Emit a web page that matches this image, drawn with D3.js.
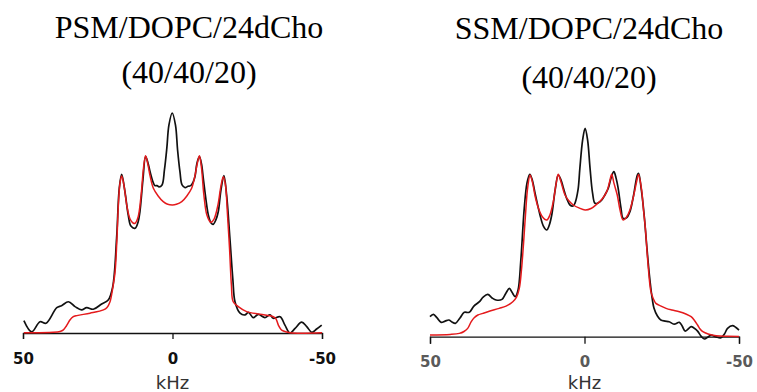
<!DOCTYPE html>
<html lang="en">
<head>
    <meta charset="UTF-8">
    <title>2H NMR spectra</title>
    <script type="text/javascript" src="https://cdn.jsdelivr.net/npm/d3@7"></script>
    <style>
        body { margin: 0; background: #fff; }
        .title { font-family: "Liberation Serif", "Times New Roman", serif; font-size: 32px; fill: #000; }
        .exp { fill: none; stroke: #111; stroke-width: 1.7; }
        .sim { fill: none; stroke: #e41a1c; stroke-width: 1.5; }
        .unit { font-family: "DejaVu Sans", sans-serif; font-size: 18px; fill: #333; }
    </style>
</head>
<body>
<svg id="chart" width="757" height="392"></svg>
<script>
    // x ticks (kHz) and titles
    var tickValues = [50, 0, -50];
    var titlesPSM = ["PSM/DOPC/24dCho", "(40/40/20)"];
    var titlesSSM = ["SSM/DOPC/24dCho", "(40/40/20)"];

    // [kHz, relative intensity]
    var psmExperimental = [
        [49.7, 5.6], [47.1, 0.5], [44.3, 5.1], [42.3, 4.4], [38.7, 11.5], [37.1, 12.4], [34.8, 14.2],
        [32.6, 12.0], [30.4, 10.5], [28.7, 11.5], [26.5, 10.8], [23.7, 13.2], [21.5, 15.0], [20.0, 21.0],
        [18.7, 43.0], [17.8, 65.8], [17.0, 72.1], [15.9, 64.2], [14.8, 53.6], [13.9, 48.6], [12.5, 47.6],
        [11.5, 50.5], [10.9, 55.1], [9.9, 69.5], [9.0, 80.2], [8.2, 77.3], [7.5, 73.3], [6.5, 68.6],
        [5.9, 67.0], [5.2, 67.0], [4.5, 66.4], [3.5, 67.3], [2.7, 74.1], [1.9, 84.0], [1.2, 94.5],
        [0.1, 100], [-1.0, 94.5], [-1.7, 83.2], [-2.5, 73.2], [-3.2, 67.3], [-4.2, 66.1], [-5.2, 66.7],
        [-6.1, 67.0], [-6.9, 68.6], [-7.5, 71.0], [-8.2, 77.3], [-9.0, 80.2], [-9.7, 76.8], [-10.3, 70.3],
        [-11.2, 60.5], [-12.0, 53.6], [-12.9, 50.0], [-13.6, 49.4], [-14.5, 51.4], [-15.3, 55.1],
        [-16.2, 65.0], [-17.2, 71.5], [-18.1, 62.7], [-19.2, 43.0], [-20.2, 24.1], [-20.9, 14.2],
        [-22.6, 9.0], [-24.2, 8.2], [-25.4, 9.4], [-27.0, 7.0], [-28.7, 8.5], [-30.9, 7.0], [-32.6, 8.2],
        [-33.7, 6.7], [-36.0, 7.4], [-37.6, 3.6], [-39.3, 0.0], [-41.0, 2.1], [-43.2, 4.9], [-44.9, 2.9],
        [-46.6, 0.3], [-48.2, 1.8], [-49.9, 3.6]
    ];

    var psmSimulated = [
        [49.7, 0.1], [39.9, 0.3], [37.6, 0.7], [36.5, 1.4], [35.5, 3.2], [34.3, 5.9], [33.3, 7.3],
        [32.0, 7.9], [27.6, 9.0], [23.1, 10.5], [21.9, 11.6], [20.9, 14.2], [20.1, 19.5], [19.2, 27.9],
        [18.6, 42.3], [18.1, 58.2], [17.6, 67.7], [17.0, 71.4], [16.2, 66.8], [15.2, 57.3], [14.2, 51.8],
        [13.2, 50.0], [12.5, 49.9], [11.5, 52.7], [10.5, 62.7], [9.7, 75.0], [9.0, 80.6], [8.2, 76.4],
        [7.5, 71.4], [6.4, 65.8], [4.8, 62.3], [3.1, 59.7], [1.6, 58.5], [0, 58.2], [-1.3, 58.5],
        [-3.1, 59.7], [-4.8, 62.3], [-6.4, 65.8], [-7.5, 71.4], [-8.2, 76.4], [-9.0, 80.6], [-9.7, 75.0],
        [-10.5, 62.7], [-11.5, 53.6], [-12.8, 50.3], [-13.9, 51.8], [-15.2, 58.2], [-16.2, 66.8],
        [-17.0, 71.0], [-17.7, 67.3], [-18.4, 53.6], [-19.1, 37.7], [-19.7, 21.8], [-20.3, 14.2],
        [-22.0, 12.0], [-24.8, 9.7], [-29.3, 8.5], [-33.7, 7.4], [-34.6, 6.4], [-35.4, 3.6], [-36.3, 1.6],
        [-37.1, 0.9], [-39.3, 0.1], [-50, 0.1]
    ];

    var ssmExperimental = [
        [50.0, 9.6], [48.9, 10.7], [47.7, 9.0], [46.4, 6.9], [45.1, 7.5], [43.9, 8.0], [42.9, 7.1],
        [41.8, 6.4], [40.3, 9.0], [38.9, 11.7], [37.3, 11.7], [35.8, 14.7], [34.0, 16.8], [32.8, 19.0],
        [31.3, 20.3], [29.9, 18.6], [28.6, 17.6], [26.7, 17.9], [25.4, 21.0], [24.3, 23.2], [23.5, 21.4],
        [22.4, 19.2], [21.5, 22.4], [20.6, 36.8], [19.5, 61.6], [18.6, 73.8], [17.7, 77.9], [16.9, 75.2],
        [16.1, 69.6], [14.4, 58.4], [13.3, 53.1], [12.2, 51.2], [11.5, 53.1], [10.6, 58.4], [9.5, 70.4],
        [8.5, 77.6], [7.6, 75.2], [6.8, 71.2], [5.7, 66.1], [4.7, 63.2], [3.7, 62.7], [3.1, 64.0],
        [2.1, 70.4], [1.5, 80.8], [0.6, 94.4], [-0.2, 100], [-1.0, 94.4], [-1.8, 80.8], [-2.6, 69.0],
        [-3.4, 64.0], [-4.4, 64.2], [-5.6, 65.6], [-6.6, 68.0], [-7.7, 71.2], [-8.6, 76.2], [-9.5, 79.2],
        [-10.2, 76.2], [-10.9, 71.2], [-11.8, 61.8], [-12.5, 56.8], [-13.6, 57.0], [-14.7, 60.0],
        [-15.9, 68.0], [-17.1, 77.6], [-17.5, 78.4], [-18.4, 70.4], [-19.3, 58.4], [-20.2, 42.6],
        [-21.0, 29.6], [-21.8, 19.5], [-22.5, 13.6], [-23.6, 9.9], [-24.7, 8.0], [-26.1, 7.5],
        [-27.4, 7.2], [-29.0, 6.0], [-30.7, 6.9], [-31.6, 5.1], [-32.6, 2.7], [-34.5, 4.8], [-35.4, 4.2],
        [-36.6, 2.7], [-37.7, 0.3], [-38.8, -1.1], [-40.0, -0.1], [-40.9, 0.8], [-42.6, -0.1],
        [-44.2, -0.5], [-45.3, 1.3], [-46.3, 4.0], [-47.9, 5.3], [-49.0, 4.4], [-50, 3.2]
    ];

    var ssmSimulated = [
        [50.0, 0.8], [43.5, 1.1], [40.5, 1.6], [39.0, 2.5], [37.8, 4.0], [36.7, 7.1], [35.7, 9.1],
        [34.5, 10.4], [32.9, 11.2], [30.6, 12.3], [27.6, 13.6], [25.4, 14.7], [23.2, 16.8], [22.0, 19.0],
        [21.1, 23.2], [20.4, 32.0], [19.7, 45.4], [19.1, 58.4], [18.4, 71.4], [17.6, 77.6], [16.8, 73.8],
        [16.0, 67.5], [14.9, 61.6], [13.7, 57.7], [12.2, 56.0], [11.2, 58.4], [10.1, 64.8], [9.2, 73.3],
        [8.5, 77.9], [7.6, 74.2], [6.3, 68.0], [5.0, 65.1], [3.6, 63.2], [1.8, 61.8], [-0.2, 60.8],
        [-2.1, 61.5], [-3.9, 63.5], [-5.7, 66.1], [-7.2, 69.6], [-8.1, 74.2], [-8.8, 77.9], [-9.5, 73.8],
        [-10.6, 68.0], [-11.5, 60.8], [-12.5, 56.0], [-13.6, 57.4], [-14.7, 60.8], [-16.0, 68.3],
        [-17.1, 75.9], [-17.5, 77.8], [-18.4, 71.4], [-19.1, 60.8], [-19.7, 52.0], [-20.5, 35.8],
        [-21.5, 21.6], [-22.3, 18.1], [-23.1, 16.0], [-24.8, 14.7], [-26.4, 13.6], [-28.3, 12.8],
        [-30.7, 12.0], [-32.8, 10.9], [-34.5, 9.6], [-35.6, 7.8], [-36.6, 5.6], [-37.4, 3.7],
        [-38.3, 2.4], [-40.0, 1.3], [-42.6, 0.5], [-46.4, 0.2], [-50, 0.1]
    ];

    var svg = d3.select("svg#chart");

    var panels = [
        {titles: titlesPSM, exp: psmExperimental, sim: psmSimulated,
         x0: 23, x1: 322, base: 333, h: 220, tx: 189, ty: [38, 83],
         labelY: 31.3, labelColor: "#111", tickLen: 6},
        {titles: titlesSSM, exp: ssmExperimental, sim: ssmSimulated,
         x0: 430, x1: 739, base: 336.7, h: 208.4, tx: 589, ty: [39, 88],
         labelY: 30, labelColor: "#5a5a5a", tickLen: 7}
    ];

    panels.forEach(function (p) {
        var x = d3.scaleLinear().domain([50, -50]).range([p.x0, p.x1]);
        var y = d3.scaleLinear().domain([0, 100]).range([p.base, p.base - p.h]);

        var line = d3.line()
            .x(function (d) { return x(d[0]); })
            .y(function (d) { return y(d[1]); })
            .curve(d3.curveCatmullRom.alpha(0.5));

        // titles
        svg.selectAll(null)
            .data(p.titles)
            .enter()
            .append("text")
            .attr("class", "title")
            .attr("x", p.tx)
            .attr("y", function (d, i) { return p.ty[i]; })
            .attr("text-anchor", "middle")
            .text(function (d) { return d; });

        // axis
        var axis = svg.append("g")
            .attr("transform", "translate(0," + p.base + ")")
            .call(d3.axisBottom(x)
                .tickValues(tickValues)
                .tickSize(p.tickLen)
                .tickSizeOuter(p.tickLen)
                .tickFormat(function (d) { return String(d); }));

        axis.select(".domain").attr("stroke", "#111").attr("stroke-width", 1.3);
        axis.selectAll(".tick line").attr("stroke", "#111").attr("stroke-width", 1.3);
        axis.selectAll(".tick text")
            .attr("y", p.labelY)
            .attr("dy", 0)
            .attr("fill", p.labelColor)
            .style("font-family", "'DejaVu Sans', sans-serif")
            .style("font-size", "15px")
            .style("font-weight", "bold");

        svg.append("text")
            .attr("class", "unit")
            .attr("x", x(0))
            .attr("y", 389)
            .attr("text-anchor", "middle")
            .text("kHz");

        svg.append("path").datum(p.exp).attr("class", "exp").attr("d", line);
        svg.append("path").datum(p.sim).attr("class", "sim").attr("d", line);
    });
</script>
</body>
</html>
